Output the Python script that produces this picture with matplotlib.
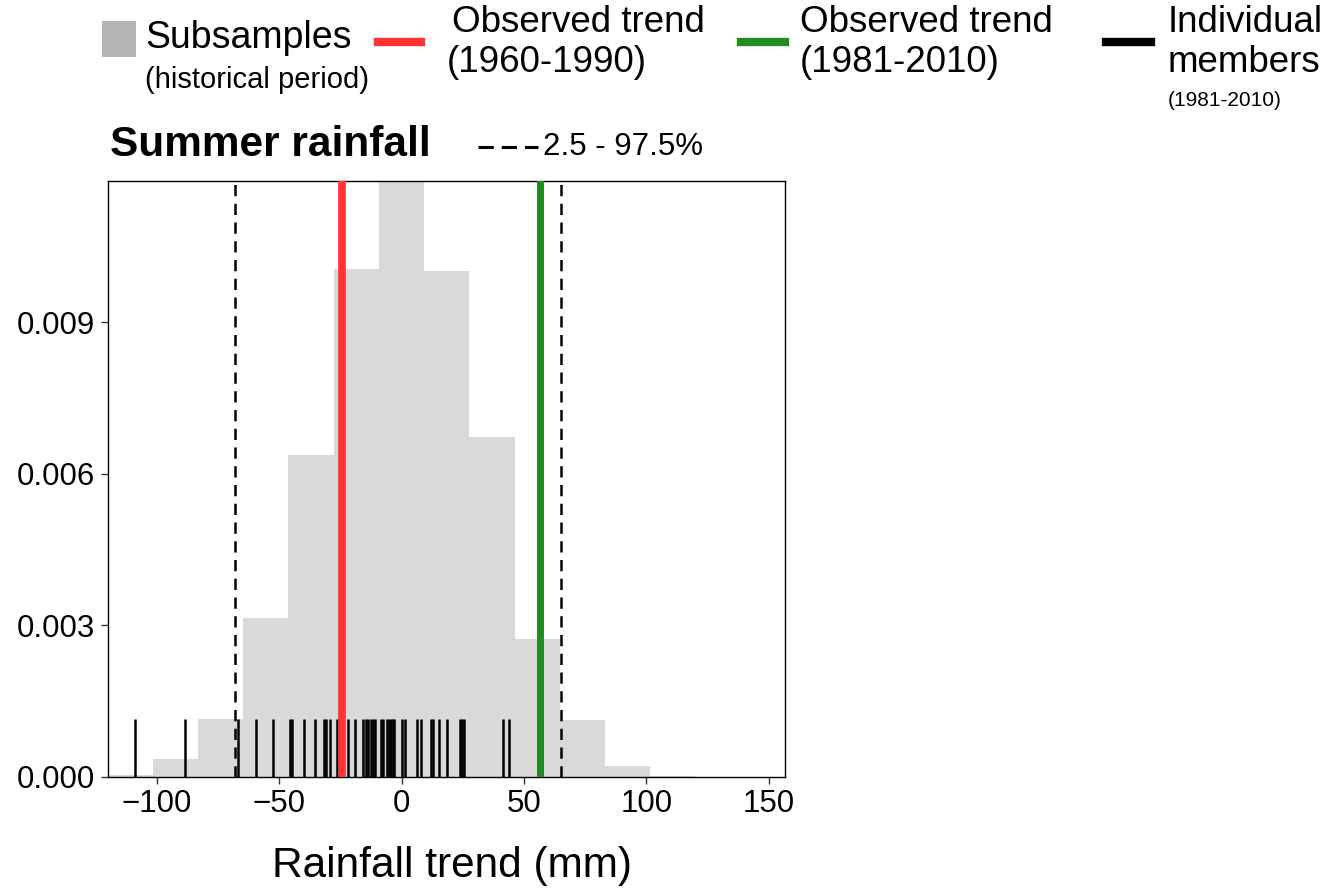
import matplotlib
matplotlib.use("Agg")
import matplotlib.pyplot as plt
from matplotlib.lines import Line2D
from matplotlib.patches import Rectangle

plt.rcParams["font.family"] = ["Liberation Sans", "DejaVu Sans"]

# Histogram of subsamples (density)
bin_edges = [-119.9, -101.6, -83.0, -64.7, -46.2, -27.7, -9.2, 9.2,
             27.7, 46.2, 64.6, 83.0, 101.5, 120.0]
density = [0.00004, 0.00035, 0.00115, 0.00315, 0.00638, 0.01005, 0.0123,
           0.01002, 0.00673, 0.00274, 0.00113, 0.00021, 0.00002]

# Individual members (1981-2010) trends
members = [-109.0, -88.3, -67.0, -59.5, -52.5, -45.6, -44.9, -40.0, -35.5,
           -31.7, -30.7, -29.4, -26.4, -24.0, -21.9, -19.1, -15.7, -14.6,
           -13.6, -12.4, -11.6, -10.9, -8.2, -7.5, -6.1, -5.1, -4.5, -3.7,
           -3.1, 0.2, 1.3, 6.3, 8.1, 12.0, 12.9, 15.3, 18.4, 24.0, 24.8,
           25.4, 41.5, 44.0, 57.4]

obs_1960_1990 = -24.5
obs_1981_2010 = 56.7
pct_lo, pct_hi = -67.9, 65.0
rug_top = 0.00115

W, H = 1342, 892


def fx(px):
    return px / W


def fy(py):
    return 1 - py / H


fig = plt.figure(figsize=(W / 100, H / 100), dpi=100)
ax = fig.add_axes([fx(108), fy(777), (785 - 108) / W, (777 - 181) / H])

widths = [b - a for a, b in zip(bin_edges[:-1], bin_edges[1:])]
ax.bar(bin_edges[:-1], density, width=widths, align="edge",
       color="#d9d9d9", edgecolor="none", zorder=1)

ax.axvline(pct_lo, color="black", lw=1.8, ls=(0, (4.5, 3)), zorder=2)
ax.axvline(pct_hi, color="black", lw=1.8, ls=(0, (4.5, 3)), zorder=2)

ax.vlines(members, 0, rug_top, color="black", lw=1.8, zorder=3)

ax.axvline(obs_1960_1990, color="#ff3333", lw=5.5, zorder=4)
ax.axvline(obs_1981_2010, color="#228b22", lw=5.0, zorder=4)

ax.set_xlim(-119.9, 156.6)
ax.set_ylim(0, 0.0118)
ax.set_xticks([-100, -50, 0, 50, 100, 150])
ax.set_yticks([0, 0.003, 0.006, 0.009])
ax.set_yticklabels(["0.000", "0.003", "0.006", "0.009"])
ax.tick_params(labelsize=22.5, length=5, width=1, color="#333333", pad=4)
for s in ax.spines.values():
    s.set_linewidth(1)
fig.text(fx(452), fy(866), "Rainfall trend (mm)", fontsize=30.5,
         ha="center", va="center")

# Title row
fig.text(fx(110), fy(145), "Summer rainfall", fontsize=30.5, fontweight="bold",
         va="center", ha="left")
fig.add_artist(Line2D([fx(478), fx(538)], [fy(147), fy(147)], color="black",
                      lw=2.2, ls=(0, (5, 2.6))))
fig.text(fx(543), fy(147), "2.5 - 97.5%", fontsize=22.5, va="center", ha="left")

# Legend row
fig.add_artist(Rectangle((fx(102), fy(57)), fx(136) - fx(102), fy(21) - fy(57),
                         transform=fig.transFigure, color="#b5b5b5", lw=0))
fig.text(fx(145), fy(38), "Subsamples", fontsize=27, va="center")
fig.text(fx(145), fy(80), "(historical period)", fontsize=21, va="center")

fig.add_artist(Line2D([fx(378), fx(421)], [fy(42), fy(42)], color="#ff3333", lw=6))
fig.text(fx(452), fy(22), "Observed trend", fontsize=26.5, va="center")
fig.text(fx(447), fy(63), "(1960-1990)", fontsize=26.5, va="center")

fig.add_artist(Line2D([fx(741), fx(785)], [fy(42), fy(42)], color="#228b22", lw=6))
fig.text(fx(800), fy(22), "Observed trend", fontsize=26.5, va="center")
fig.text(fx(800), fy(63), "(1981-2010)", fontsize=26.5, va="center")

fig.add_artist(Line2D([fx(1106), fx(1151)], [fy(42), fy(42)], color="black", lw=6))
fig.text(fx(1168), fy(22), "Individual", fontsize=26.5, va="center")
fig.text(fx(1168), fy(63), "members", fontsize=26.5, va="center")
fig.text(fx(1168), fy(100), "(1981-2010)", fontsize=15, va="center")

fig.savefig("out.png", dpi=100)
